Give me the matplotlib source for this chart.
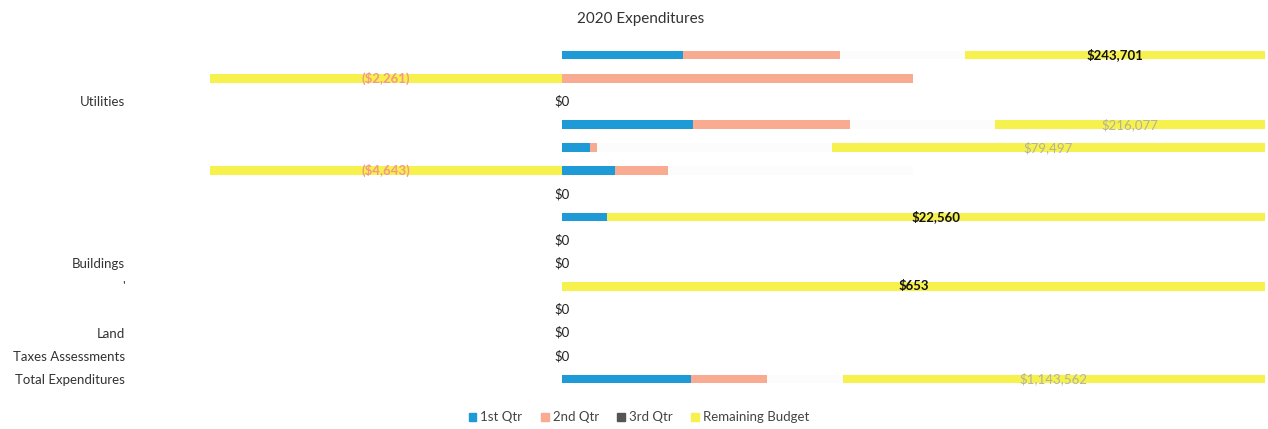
import numpy as np
import matplotlib
matplotlib.use("Agg")
import matplotlib.pyplot as plt
from matplotlib.patches import Patch

plt.rcParams['font.family'] = ['Lato', 'DejaVu Sans']

## data (many labels are washed out)
categories = ['', '', 'Utilities', '', '', '', '', '', '', 'Buildings', "'", '',
              'Land', 'Taxes Assessments', 'Total Expenditures']
q1 = [98293, 0, 0, 104836, 5140, 700, 0, 1543, 0, 0, 0, 0, 0, 0, 349600]
q2 = [127537, 2261, 0, 125643, 1285, 700, 0, 0, 0, 0, 0, 0, 0, 0, 205900]
q3 = [101540, 0, 0, 116044, 43143, 3243, 0, 0, 0, 0, 0, 0, 0, 0, 205900]
remaining = [243701, -2261, 0, 216077, 79497, -4643, 0, 22560, 0, 0, 653, 0, 0, 0, 1143562]
series_names = ['1st Qtr', '2nd Qtr', '3rd Qtr', 'Remaining Budget']

# 3rd qtr is almost invisible in the scan
colors = ['#1e9ad6', '#f8ab91', '#fcfcfc', '#f6f14c']
legend_colors = ['#1e9ad6', '#f8ab91', '#555555', '#f6f14c']

data = np.array([q1, q2, q3, remaining], dtype=float)
tot = np.abs(data).sum(axis=0)
tot[tot == 0] = 1
share = data / tot  # 100% stacked

fig = plt.figure(figsize=(12.68, 4.29), dpi=100)
ax = fig.add_axes([210 / 1268, 0.0895, 1055 / 1268, 0.8093])

y = np.arange(len(categories))
pos_left = np.zeros(len(categories))
neg_left = np.zeros(len(categories))
for i in range(4):
    s = share[i]
    left = np.where(s >= 0, pos_left, neg_left)
    ax.barh(y, s, left=left, height=0.38, color=colors[i], linewidth=0)
    if i == 3:
        centers = left + s / 2
    pos_left = pos_left + np.where(s > 0, s, 0)
    neg_left = neg_left + np.where(s < 0, s, 0)

# labels on remaining budget
faded = [3, 4, 14]
for j, v in enumerate(remaining):
    if v < 0:
        txt = "(${:,.0f})".format(-v)
        ax.text(centers[j], j, txt, ha='center', va='center', fontsize=9.5,
                color='#f59a86', fontweight='bold')
    elif v == 0:
        ax.text(0, j, "$0", ha='center', va='center', fontsize=9.5, color='#222222')
    else:
        txt = "${:,.0f}".format(v)
        if j in faded:
            ax.text(centers[j], j, txt, ha='center', va='center', fontsize=9.5,
                    color='#b5b39a')
        else:
            ax.text(centers[j], j, txt, ha='center', va='center', fontsize=9.5,
                    color='#111111', fontweight='bold')

ax.set_xlim(-0.5, 1.0)
ax.set_ylim(len(categories) - 0.5, -0.5)
ax.set_yticks(y)
ax.set_yticklabels(categories, fontsize=9.5, color='#333333')
ax.tick_params(axis='y', length=0, pad=61)
ax.set_xticks([])
for sp in ax.spines.values():
    sp.set_visible(False)

fig.text(0.505, 0.955, '2020 Expenditures', ha='center', va='center',
         fontsize=11, color='#333333')

handles = [Patch(color=c, label=n) for c, n in zip(legend_colors, series_names)]
fig.legend(handles=handles, loc='center', bbox_to_anchor=(0.504, 0.027), ncol=4,
           frameon=False, fontsize=9.5, handlelength=0.6, handleheight=0.6,
           handletextpad=0.3, columnspacing=1.4, labelcolor='#444444')

fig.savefig('out.png', dpi=100)
